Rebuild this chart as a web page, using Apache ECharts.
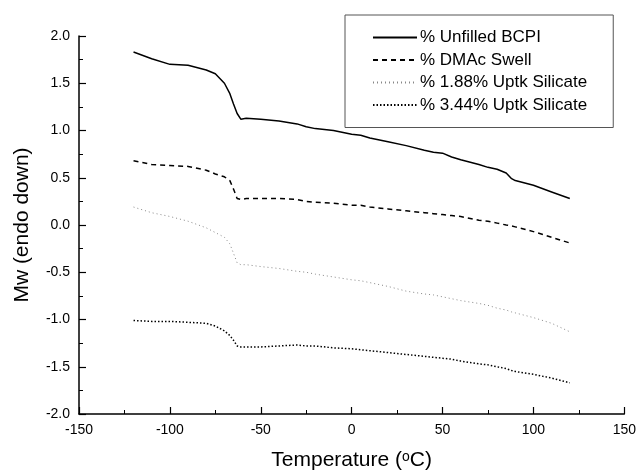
<!DOCTYPE html>
<html>
<head>
<meta charset="utf-8">
<script src="https://cdn.jsdelivr.net/npm/echarts@6/dist/echarts.min.js"></script>
<style>
    html, body { margin: 0; padding: 0; background: #fff; }
    #chart1 { width: 639px; height: 476px; }
</style>
</head>
<body>
<div id="chart1"></div>
<script>
    // temperature (oC)
    var temps = [-120, -110, -100, -90, -80, -75, -70, -67, -65, -63, -61, -58, -50, -40, -30, -25, -20, -10, 0, 5, 10, 20, 30, 40, 45, 50, 55, 60, 70, 75, 80, 85, 88, 90, 100, 110, 120];

    var unfilled = [1.83, 1.76, 1.70, 1.69, 1.64, 1.60, 1.50, 1.39, 1.28, 1.18, 1.12, 1.13, 1.12, 1.10, 1.07, 1.04, 1.02, 1.00, 0.96, 0.95, 0.92, 0.88, 0.84, 0.79, 0.77, 0.76, 0.72, 0.69, 0.64, 0.61, 0.59, 0.55, 0.49, 0.47, 0.42, 0.35, 0.28];
    var dmacSwell = [0.68, 0.64, 0.63, 0.62, 0.58, 0.54, 0.51, 0.47, 0.38, 0.28, 0.27, 0.28, 0.28, 0.28, 0.27, 0.25, 0.24, 0.23, 0.21, 0.21, 0.19, 0.17, 0.15, 0.13, 0.12, 0.11, 0.10, 0.09, 0.05, 0.04, 0.02, 0.00, -0.01, -0.02, -0.07, -0.13, -0.19];
    var uptk188 = [0.19, 0.13, 0.09, 0.04, -0.03, -0.08, -0.13, -0.20, -0.30, -0.40, -0.42, -0.42, -0.44, -0.46, -0.49, -0.50, -0.52, -0.55, -0.58, -0.59, -0.61, -0.65, -0.70, -0.73, -0.74, -0.76, -0.78, -0.80, -0.83, -0.85, -0.88, -0.90, -0.92, -0.93, -0.98, -1.04, -1.13];
    var uptk344 = [-1.01, -1.02, -1.02, -1.03, -1.04, -1.07, -1.12, -1.17, -1.22, -1.28, -1.29, -1.29, -1.29, -1.28, -1.27, -1.28, -1.28, -1.30, -1.31, -1.32, -1.33, -1.35, -1.37, -1.39, -1.40, -1.41, -1.42, -1.44, -1.47, -1.48, -1.50, -1.52, -1.54, -1.55, -1.58, -1.62, -1.67];

    var seriesNames = ['% Unfilled BCPI', '% DMAc Swell', '% 1.88% Uptk Silicate', '% 3.44% Uptk Silicate'];

    function pairs(vals) {
        return temps.map(function (t, i) { return [t, vals[i]]; });
    }

    var chart1 = echarts.init(document.getElementById('chart1'));
    var font = 'Liberation Sans, Arial, sans-serif';

    var option = {
        backgroundColor: '#fff',
        animation: false,
        grid: { left: 79, right: 13, top: 36, bottom: 56 },
        legend: {
            orient: 'vertical',
            left: 345, top: 15,
            data: seriesNames,
            itemWidth: 44, itemHeight: 17, itemGap: 5.5,
            padding: [14, 26, 14, 27],
            borderColor: '#555', borderWidth: 1,
            itemStyle: { opacity: 0 },
            textStyle: { color: '#000', fontSize: 17, fontFamily: font, padding: [0, 0, 0, -2] }
        },
        xAxis: {
            type: 'value', min: -150, max: 150, interval: 50,
            name: 'Temperature ({sup|o}C)',
            nameLocation: 'middle', nameGap: 36,
            nameTextStyle: {
                color: '#000', fontSize: 21, fontFamily: font,
                rich: { sup: { fontSize: 14, verticalAlign: 'top', padding: [0, 0, 5, 0], fontFamily: font, color: '#000' } }
            },
            axisLine: { onZero: false, lineStyle: { color: '#000', width: 1.5 } },
            axisTick: { inside: true, length: 7, lineStyle: { color: '#000', width: 1.2 } },
            minorTick: { show: true, splitNumber: 2, length: 4, lineStyle: { color: '#000', width: 1 } },
            axisLabel: { color: '#000', fontSize: 14, fontFamily: font, margin: 9 },
            splitLine: { show: false }
        },
        yAxis: {
            type: 'value', min: -2, max: 2, interval: 0.5,
            name: 'Mw (endo down)',
            nameLocation: 'middle', nameGap: 46,
            nameTextStyle: { color: '#000', fontSize: 21, fontFamily: font },
            axisLine: { show: true, onZero: false, lineStyle: { color: '#000', width: 1.5 } },
            axisTick: { show: true, inside: true, length: 7, lineStyle: { color: '#000', width: 1.2 } },
            minorTick: { show: true, splitNumber: 2, length: 4, lineStyle: { color: '#000', width: 1 } },
            axisLabel: { color: '#000', fontSize: 14, fontFamily: font, margin: 9,
                formatter: function (v) { return v.toFixed(1); } },
            splitLine: { show: false }
        },
        series: [
            {
                name: seriesNames[0], type: 'line', symbol: 'none',
                lineStyle: { color: '#000', width: 1.5, type: 'solid' },
                itemStyle: { color: '#000' },
                data: pairs(unfilled)
            },
            {
                name: seriesNames[1], type: 'line', symbol: 'none',
                lineStyle: { color: '#000', width: 1.5, type: [5, 4] },
                itemStyle: { color: '#000' },
                data: pairs(dmacSwell)
            },
            {
                name: seriesNames[2], type: 'line', symbol: 'none',
                lineStyle: { color: '#888', width: 1, type: [1, 3] },
                itemStyle: { color: '#888' },
                data: pairs(uptk188)
            },
            {
                name: seriesNames[3], type: 'line', symbol: 'none',
                lineStyle: { color: '#000', width: 1.5, type: [1.5, 2] },
                itemStyle: { color: '#000' },
                data: pairs(uptk344)
            }
        ]
    };

    chart1.setOption(option);
</script>
</body>
</html>
